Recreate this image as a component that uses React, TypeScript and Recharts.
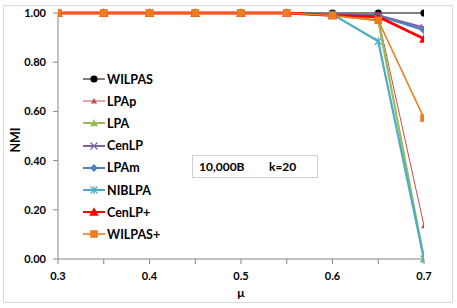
import React from 'react';
import { LineChart, Line, XAxis, YAxis, Legend, Label } from 'recharts';

const mu = [0.3, 0.35, 0.4, 0.45, 0.5, 0.55, 0.6, 0.65, 0.7];
const wilpas = [1, 1, 1, 1, 1, 1, 1, 1, 1];
const lpap = [1, 1, 1, 1, 1, 1, 0.99, 0.98, 0.135];
const lpa = [1, 1, 1, 1, 1, 1, 0.99, 0.97, 0.0];
const cenlp = [1, 1, 1, 1, 1, 1, 0.995, 0.99, 0.94];
const lpam = [1, 1, 1, 1, 1, 1, 0.995, 0.99, 0.93];
const niblpa = [1, 1, 1, 1, 1, 1, 0.995, 0.885, 0.0];
const cenlpPlus = [1, 1, 1, 1, 1, 1, 0.99, 0.985, 0.895];
const wilpasPlus = [1, 1, 1, 1, 1, 1, 0.99, 0.97, 0.573];

const xTicks = [0.3, 0.35, 0.4, 0.45, 0.5, 0.55, 0.6, 0.65, 0.7];
const yTicks = [0, 0.2, 0.4, 0.6, 0.8, 1];

type Shape = 'circle' | 'smallTri' | 'tri' | 'bigTri' | 'x' | 'diamond' | 'star' | 'square';

// draw order: first is at the bottom
const series: { key: string; name: string; values: number[]; color: string; width: number; shape: Shape }[] = [
  { key: 'wilpas', name: 'WILPAS', values: wilpas, color: '#000000', width: 1, shape: 'circle' },
  { key: 'lpap', name: 'LPAp', values: lpap, color: '#C0504D', width: 1, shape: 'smallTri' },
  { key: 'lpa', name: 'LPA', values: lpa, color: '#9BBB59', width: 2.2, shape: 'tri' },
  { key: 'cenlp', name: 'CenLP', values: cenlp, color: '#8064A2', width: 2.2, shape: 'x' },
  { key: 'lpam', name: 'LPAm', values: lpam, color: '#4F81BD', width: 2.2, shape: 'diamond' },
  { key: 'niblpa', name: 'NIBLPA', values: niblpa, color: '#4BACC6', width: 2.2, shape: 'star' },
  { key: 'cenlpPlus', name: 'CenLP+', values: cenlpPlus, color: '#FF0000', width: 2.8, shape: 'bigTri' },
  { key: 'wilpasPlus', name: 'WILPAS+', values: wilpasPlus, color: '#EE7D1E', width: 1.6, shape: 'square' },
];

const data = mu.map((m, i) => {
  const row: Record<string, number> = { mu: m };
  series.forEach((s) => (row[s.key] = s.values[i]));
  return row;
});

const FONT = 'Lato, "Open Sans", sans-serif';

function marker(shape: Shape, color: string, cx: number, cy: number, key?: string | number) {
  switch (shape) {
    case 'circle':
      return <circle key={key} cx={cx} cy={cy} r={3.6} fill={color} />;
    case 'smallTri':
    case 'tri':
    case 'bigTri': {
      const s = shape === 'smallTri' ? 3 : shape === 'tri' ? 4 : 4.8;
      return (
        <polygon
          key={key}
          points={`${cx},${cy - s} ${cx + s},${cy + s * 0.8} ${cx - s},${cy + s * 0.8}`}
          fill={color}
        />
      );
    }
    case 'x':
      return (
        <g key={key} stroke={color} strokeWidth={1.2}>
          <line x1={cx - 3.5} y1={cy - 3.5} x2={cx + 3.5} y2={cy + 3.5} />
          <line x1={cx - 3.5} y1={cy + 3.5} x2={cx + 3.5} y2={cy - 3.5} />
        </g>
      );
    case 'diamond':
      return (
        <polygon
          key={key}
          points={`${cx},${cy - 4} ${cx + 4},${cy} ${cx},${cy + 4} ${cx - 4},${cy}`}
          fill={color}
        />
      );
    case 'star':
      return (
        <g key={key} stroke={color} strokeWidth={1.2}>
          <line x1={cx - 3.5} y1={cy - 3.5} x2={cx + 3.5} y2={cy + 3.5} />
          <line x1={cx - 3.5} y1={cy + 3.5} x2={cx + 3.5} y2={cy - 3.5} />
          <line x1={cx} y1={cy - 4} x2={cx} y2={cy + 4} />
        </g>
      );
    case 'square':
      return <rect key={key} x={cx - 3.8} y={cy - 3.8} width={7.6} height={7.6} fill={color} />;
  }
  return null;
}

const renderLegend = () => (
  <div style={{ fontFamily: FONT, fontWeight: 700, fontSize: 12.5, color: '#000' }}>
    {series.map((s) => (
      <div key={s.key} style={{ display: 'flex', alignItems: 'center', height: 22.2 }}>
        <svg width={22} height={12}>
          <line x1={0} y1={6} x2={22} y2={6} stroke={s.color} strokeWidth={Math.min(s.width, 2)} />
          {marker(s.shape, s.color, 11, 6)}
        </svg>
        <span style={{ marginLeft: 2 }}>{s.name}</span>
      </div>
    ))}
  </div>
);

const XTick = (props: any) => {
  const { x, y, payload } = props;
  const v = payload.value as number;
  if (Math.round(v * 100) % 10 !== 0) return <g />;
  return (
    <text x={x} y={y} dy="0.71em" textAnchor="middle" fontFamily={FONT} fontWeight={700} fontSize={11} fill="#000">
      {v.toFixed(1)}
    </text>
  );
};

export default function App() {
  return (
    <div style={{ position: 'absolute', left: 0, top: 0, width: 457, height: 308, background: '#fff' }}>
      <div
        style={{
          position: 'absolute',
          left: 3,
          top: 5,
          width: 448,
          height: 296,
          border: '1px solid #D9D9D9',
        }}
      />
      <LineChart
        width={457}
        height={308}
        data={data}
        margin={{ top: 13, right: 33, left: 0, bottom: 0 }}
        style={{ position: 'absolute', left: 0, top: 0 }}
      >
        <XAxis
          dataKey="mu"
          type="number"
          domain={[0.3, 0.7]}
          ticks={xTicks}
          interval={0}
          height={49}
          tick={<XTick />}
          tickSize={5}
          tickMargin={8}
          axisLine={{ stroke: '#868686' }}
          tickLine={{ stroke: '#868686' }}
          allowDataOverflow
        >
          <Label
            content={() => (
              <text x={241} y={297} textAnchor="middle" fontFamily={FONT} fontWeight={700} fontSize={12} fill="#000">
                μ
              </text>
            )}
          />
        </XAxis>
        <YAxis
          type="number"
          domain={[0, 1]}
          ticks={yTicks}
          width={58}
          tickFormatter={(v: number) => v.toFixed(2)}
          tick={{ fontFamily: FONT, fontWeight: 700, fontSize: 11, fill: '#000' }}
          tickSize={5}
          tickMargin={7}
          axisLine={{ stroke: '#868686' }}
          tickLine={{ stroke: '#868686' }}
        >
          <Label
            content={() => (
              <text
                x={15}
                y={140}
                transform="rotate(-90 15 140)"
                textAnchor="middle"
                dominantBaseline="central"
                fontFamily={FONT}
                fontWeight={700}
                fontSize={12.5}
                fill="#000"
              >
                NMI
              </text>
            )}
          />
        </YAxis>
        <Legend
          layout="vertical"
          align="center"
          verticalAlign="middle"
          content={renderLegend}
          wrapperStyle={{ left: 83, top: 68, width: 'auto' }}
        />
        {series.map((s) => (
          <Line
            key={s.key}
            type="linear"
            dataKey={s.key}
            name={s.name}
            stroke={s.color}
            strokeWidth={s.width}
            dot={(p: any) => marker(s.shape, s.color, p.cx, p.cy, p.index)}
            activeDot={false}
            isAnimationActive={false}
          />
        ))}
      </LineChart>
      <div
        style={{
          position: 'absolute',
          left: 192,
          top: 155,
          width: 126,
          height: 23,
          border: '1px solid #D0D0D0',
          background: '#fff',
          fontFamily: FONT,
          fontWeight: 700,
          fontSize: 12,
          lineHeight: '22px',
          boxSizing: 'border-box',
        }}
      >
        <span style={{ position: 'absolute', left: 6 }}>10,000B</span>
        <span style={{ position: 'absolute', left: 76 }}>k=20</span>
      </div>
    </div>
  );
}
